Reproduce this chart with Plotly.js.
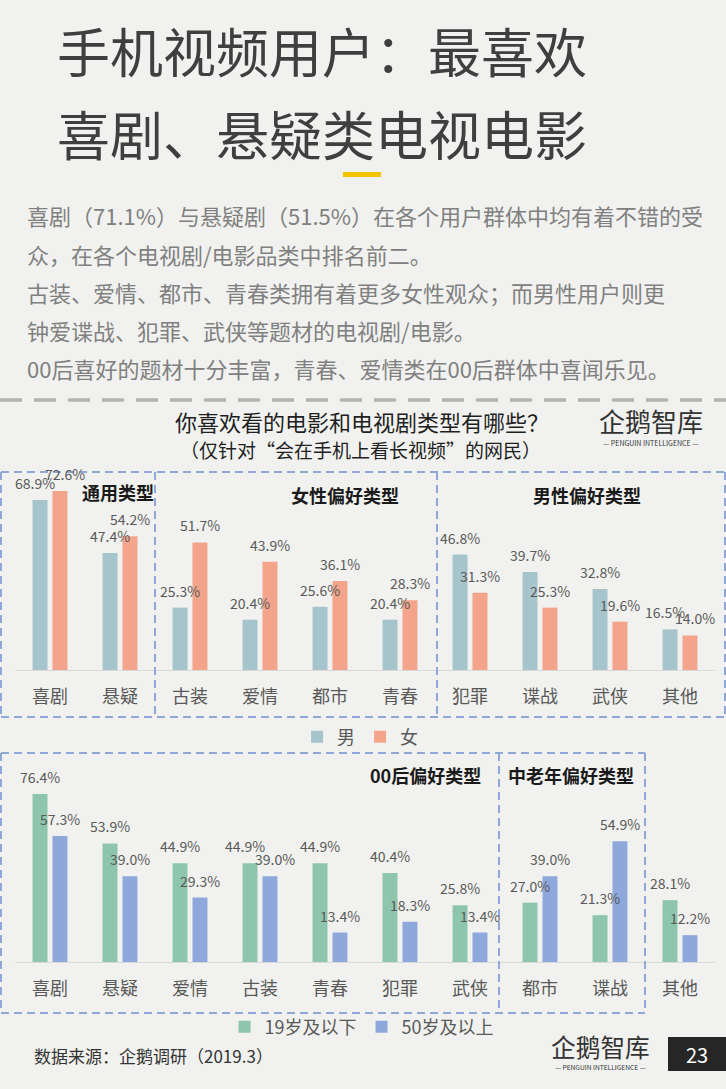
<!DOCTYPE html>
<html>
<head>
<meta charset="utf-8">
<script src="https://cdn.plot.ly/plotly-3.0.1.min.js"></script>
<style>
html,body{margin:0;padding:0;background:#f1f2ef;}
#chart{width:726px;height:1089px;}
</style>
</head>
<body>
<div id="chart"></div>
<script>
// ---- data ----
const cats1 = ['喜剧','悬疑','古装','爱情','都市','青春','犯罪','谍战','武侠','其他'];
const male = [68.9,47.4,25.3,20.4,25.6,20.4,46.8,39.7,32.8,16.5];
const female = [72.6,54.2,51.7,43.9,36.1,28.3,31.3,25.3,19.6,14.0];
const cats2 = ['喜剧','悬疑','爱情','古装','青春','犯罪','武侠','都市','谍战','其他'];
const under19 = [76.4,53.9,44.9,44.9,44.9,40.4,25.8,27.0,21.3,28.1];
const over50 = [57.3,39.0,29.3,39.0,13.4,18.3,13.4,39.0,54.9,12.2];
const series1Names = ['男','女'];
const series2Names = ['19岁及以下','50岁及以上'];

// ---- page geometry helpers ----
const W = 726, H = 1089;
const px = v => v / W;
const py = v => 1 - v / H;
const FONT = '"Noto Sans CJK SC", "Noto Sans", sans-serif';

const C_MALE = '#a6c4cc', C_FEMALE = '#f4a48a';
const C_YOUNG = '#8dc6ad', C_OLD = '#8fa8dc';
const C_LABEL = '#595959';
const C_BOX = '#8fa8d8';

const traces = [
  {type:'bar', name:series1Names[0], x:cats1, y:male, marker:{color:C_MALE}, xaxis:'x', yaxis:'y', legend:'legend', hoverinfo:'skip'},
  {type:'bar', name:series1Names[1], x:cats1, y:female, marker:{color:C_FEMALE}, xaxis:'x', yaxis:'y', legend:'legend', hoverinfo:'skip'},
  {type:'bar', name:series2Names[0], x:cats2, y:under19, marker:{color:C_YOUNG}, xaxis:'x2', yaxis:'y2', legend:'legend2', hoverinfo:'skip'},
  {type:'bar', name:series2Names[1], x:cats2, y:over50, marker:{color:C_OLD}, xaxis:'x2', yaxis:'y2', legend:'legend2', hoverinfo:'skip'}
];

const annotations = [];
const shapes = [];

// value labels, built from the data arrays; labels of close pairs are spread apart
function addLabels(cats, a, b, xref, yref, pxPerUnit) {
  cats.forEach((c, i) => {
    const close = Math.abs(a[i] - b[i]) * pxPerUnit < 15;
    const sA = close ? -15 : -10;
    const sB = close ? 15 : 10;
    [[a, sA], [b, sB]].forEach(([arr, xs]) => {
      annotations.push({
        x: c, y: arr[i], xref: xref, yref: yref, text: arr[i].toFixed(1) + '%',
        showarrow: false, yanchor: 'bottom', xanchor: 'center', xshift: xs, yshift: 6,
        borderpad: 0,
        font: {family: FONT, size: 14, color: C_LABEL}
      });
    });
  });
}
addLabels(cats1, male, female, 'x', 'y', 2.466);
addLabels(cats2, under19, over50, 'x2', 'y2', 2.2);

function txt(text, x, y, size, color, opts) {
  annotations.push(Object.assign({
    text: text, x: px(x), y: py(y), xref: 'paper', yref: 'paper', showarrow: false,
    xanchor: 'left', yanchor: 'middle', font: {family: FONT, size: size, color: color}
  }, opts || {}));
}

// page title
txt('手机视频用户：最喜欢', 55, 50, 53, '#3f3f3f');
txt('喜剧、悬疑类电视电影', 55, 133, 53, '#3f3f3f');
shapes.push({type:'rect', xref:'paper', yref:'paper', x0:px(343), x1:px(381), y0:py(177), y1:py(172), fillcolor:'#f5c400', line:{width:0}});

// body text
const body = [
  '喜剧（71.1%）与悬疑剧（51.5%）在各个用户群体中均有着不错的受',
  '众，在各个电视剧/电影品类中排名前二。',
  '古装、爱情、都市、青春类拥有着更多女性观众；而男性用户则更',
  '钟爱谍战、犯罪、武侠等题材的电视剧/电影。',
  '00后喜好的题材十分丰富，青春、爱情类在00后群体中喜闻乐见。'
];
const bodyY = [215, 254, 292, 330, 368];
body.forEach((t, i) => txt(t, 25, bodyY[i], 22, '#808080'));

// grey separator
shapes.push({type:'line', xref:'paper', yref:'paper', x0:0, x1:1, y0:py(400), y1:py(400), line:{color:'#b3b3b3', width:3.5, dash:'22px,12px'}});

// chart title
txt('你喜欢看的电影和电视剧类型有哪些？', 362, 421, 22, '#1f1f1f', {xanchor:'center'});
txt('（仅针对“会在手机上看长视频”的网民）', 360, 449, 19, '#1f1f1f', {xanchor:'center'});

// logos
function logo(cx, cy, s) {
  txt('企鹅智库', cx, cy, 26 * s, '#333333', {xanchor:'center'});
  txt('— PENGUIN INTELLIGENCE —', cx, cy + 22 * s, 7 * s, '#333333', {xanchor:'center'});
}
logo(651, 421, 1);
logo(600, 1046, 0.95);

// group labels
txt('<b>通用类型</b>', 118, 492, 18, '#1a1a1a', {xanchor:'center'});
txt('<b>女性偏好类型</b>', 345, 495, 18, '#1a1a1a', {xanchor:'center'});
txt('<b>男性偏好类型</b>', 587, 495, 18, '#1a1a1a', {xanchor:'center'});
txt('<b>00后偏好类型</b>', 425, 775, 18, '#1a1a1a', {xanchor:'center'});
txt('<b>中老年偏好类型</b>', 571, 775, 18, '#1a1a1a', {xanchor:'center'});

// dashed boxes
function dline(x0, y0, x1, y1) {
  shapes.push({type:'line', xref:'paper', yref:'paper', x0:px(x0), x1:px(x1), y0:py(y0), y1:py(y1), line:{color:C_BOX, width:2, dash:'8px,5px'}});
}
dline(1, 472, 725, 472); dline(1, 717, 725, 717);
dline(1, 472, 1, 717); dline(155, 472, 155, 717); dline(437, 472, 437, 717); dline(725, 472, 725, 717);
dline(1, 753, 645, 753); dline(1, 1013, 645, 1013);
dline(1, 753, 1, 1013); dline(499, 753, 499, 1013); dline(645, 753, 645, 1013);

// footer
txt('数据来源：企鹅调研（2019.3）', 32, 1055, 17, '#333333');
shapes.push({type:'rect', xref:'paper', yref:'paper', x0:px(668), x1:px(726), y0:py(1071), y1:py(1037), fillcolor:'#262626', line:{width:0}});
txt('23', 697, 1054, 20, '#ffffff', {xanchor:'center'});

const xCommon = {
  type:'category', range:[-0.5, 9.5], autorange:false, showline:true, linecolor:'#d9d9d9', linewidth:1, ticks:'', showgrid:false, zeroline:false,
  tickfont:{family:FONT, size:18, color:C_LABEL}, ticklabelstandoff:10, fixedrange:true
};
const yCommon = {visible:false, range:[0,80], autorange:false, fixedrange:true};

const layout = {
  width:W, height:H, margin:{l:0, r:0, t:0, b:0},
  paper_bgcolor:'#f1f2ef', plot_bgcolor:'rgba(0,0,0,0)',
  barmode:'group', bargap:0.43, bargroupgap:0.25,
  showlegend:true,
  xaxis: Object.assign({}, xCommon, {domain:[px(15), px(715)], anchor:'y'}),
  yaxis: Object.assign({}, yCommon, {domain:[py(670), py(472.7)], anchor:'x'}),
  xaxis2: Object.assign({}, xCommon, {domain:[px(15), px(715)], anchor:'y2'}),
  yaxis2: Object.assign({}, yCommon, {domain:[py(962), py(786)], anchor:'x2'}),
  legend: {orientation:'h', x:0.496, xanchor:'center', y:py(737), yanchor:'middle', bgcolor:'rgba(0,0,0,0)',
           font:{family:FONT, size:18, color:C_LABEL}, itemwidth:30, traceorder:'normal'},
  legend2: {orientation:'h', x:0.498, xanchor:'center', y:py(1027), yanchor:'middle', bgcolor:'rgba(0,0,0,0)',
           font:{family:FONT, size:18, color:C_LABEL}, itemwidth:30, traceorder:'normal'},
  annotations: annotations,
  shapes: shapes,
  font:{family:FONT}
};

Plotly.newPlot('chart', traces, layout, {displayModeBar:false, staticPlot:true});
</script>
</body>
</html>
